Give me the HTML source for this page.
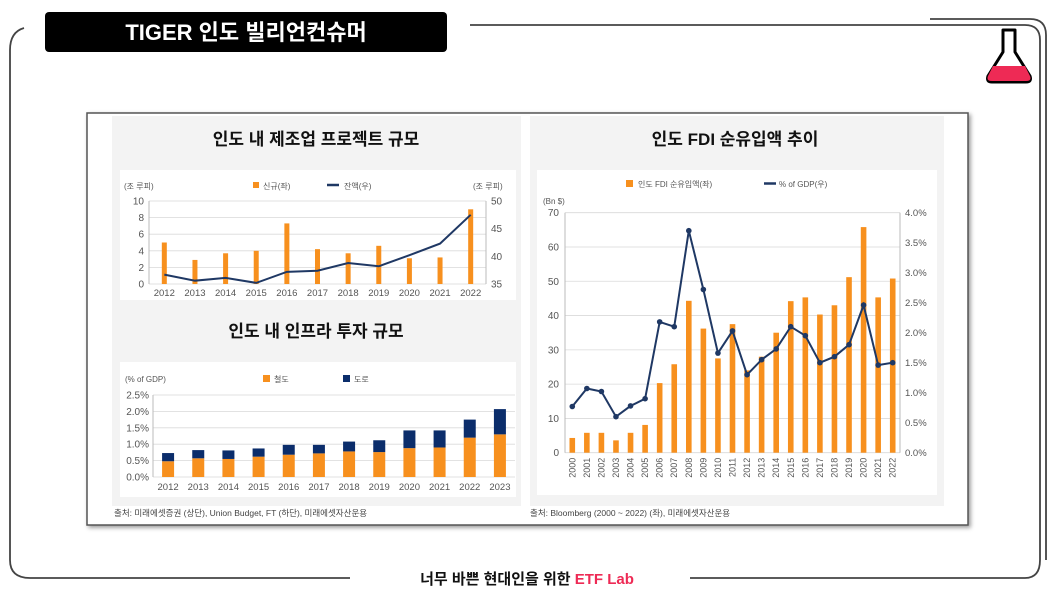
<!DOCTYPE html>
<html><head><meta charset="utf-8"><style>
html,body{margin:0;padding:0;background:#fff;width:1055px;height:596px;overflow:hidden}
svg{display:block;font-family:"Liberation Sans","Noto Sans CJK KR",sans-serif}
</style></head><body>
<svg id="s" width="1055" height="596" viewBox="0 0 1055 596">
<g fill="none" stroke="#444" stroke-width="1.8">
<path d="M24 28 Q10 32 10 50 L10 560 Q10 578 30 578 L350 578"/>
<path d="M690 578 L1025 578 Q1040 578 1040 560 L1040 40 Q1040 25 1025 25 L470 25"/>
<path d="M930 19 L1030 19 Q1046 19 1046 35 L1046 560"/>
</g>
<rect x="45" y="12" width="402" height="40" rx="4" fill="#000"/>
<text x="246" y="40" fill="#fff" font-size="22" font-weight="bold" text-anchor="middle">TIGER 인도 빌리언컨슈머</text>
<g>
<path d="M1003 30 L1015 30 L1015 52 L1030 76 Q1032 82 1026 82 L992 82 Q986 82 988 76 L1003 52 Z" fill="#fff" stroke="#000" stroke-width="3" stroke-linejoin="round"/>
<path d="M993 66 L1025 66 L1030 76 Q1032 81 1026 81 L992 81 Q986 81 988 76 Z" fill="#ee2a55"/>
</g>
<rect x="87" y="113" width="881" height="412" fill="#fff" stroke="#555" stroke-width="1.5" style="filter:drop-shadow(2px 2px 2px #999)"/>
<rect x="112" y="116" width="409" height="390" fill="#f3f3f3"/>
<rect x="530" y="116" width="414" height="390" fill="#f3f3f3"/>
<rect x="120" y="170" width="396" height="130" fill="#fff"/>
<rect x="120" y="362" width="396" height="135" fill="#fff"/>
<rect x="537" y="170" width="400" height="325" fill="#fff"/>
<text x="316" y="145" font-size="17" font-weight="bold" text-anchor="middle" fill="#111">인도 내 제조업 프로젝트 규모</text>
<text x="316" y="337" font-size="17" font-weight="bold" text-anchor="middle" fill="#111">인도 내 인프라 투자 규모</text>
<text x="735" y="145" font-size="17" font-weight="bold" text-anchor="middle" fill="#111">인도 FDI 순유입액 추이</text>
<text x="114" y="516" font-size="8.5" fill="#444">출처: 미래에셋증권 (상단), Union Budget, FT (하단), 미래에셋자산운용</text>
<text x="530" y="516" font-size="8.5" fill="#444">출처: Bloomberg (2000 ~ 2022) (좌), 미래에셋자산운용</text>
<text x="527" y="584" font-size="15" font-weight="bold" text-anchor="middle" fill="#111">너무 바쁜 현대인을 위한 <tspan fill="#ee2a55">ETF Lab</tspan></text>
<g id="c1"></g><g id="c2"></g><g id="c3"></g>
</svg>
<script>
const mfgYears=["2012","2013","2014","2015","2016","2017","2018","2019","2020","2021","2022"];
const mfgNew=[5,2.9,3.7,4,7.3,4.2,3.7,4.6,3.1,3.2,9];
const mfgBal=[36.7,35.6,36.1,35.2,37.2,37.4,38.8,38.2,40.2,42.3,47.5];
const mfgLeftTicks=[0,2,4,6,8,10];
const mfgRightTicks=[35,40,45,50];
const infYears=["2012","2013","2014","2015","2016","2017","2018","2019","2020","2021","2022","2023"];
const infRail=[0.48,0.57,0.55,0.62,0.68,0.72,0.78,0.76,0.88,0.9,1.2,1.3];
const infRoad=[0.25,0.25,0.26,0.25,0.3,0.26,0.3,0.36,0.54,0.52,0.55,0.77];
const infTicks=[0,0.5,1,1.5,2,2.5];
const fdiYears=["2000","2001","2002","2003","2004","2005","2006","2007","2008","2009","2010","2011","2012","2013","2014","2015","2016","2017","2018","2019","2020","2021","2022"];
const fdiVal=[4.3,5.8,5.8,3.6,5.8,8.1,20.3,25.8,44.3,36.2,27.5,37.5,24,28,35,44.2,45.3,40.3,43,51.2,65.8,45.3,50.8];
const fdiGdp=[0.77,1.07,1.02,0.6,0.78,0.9,2.18,2.1,3.7,2.72,1.66,2.03,1.3,1.55,1.73,2.1,1.95,1.5,1.6,1.8,2.46,1.46,1.5];
const fdiLeftTicks=[0,10,20,30,40,50,60,70];
const fdiRightTicks=[0,0.5,1,1.5,2,2.5,3,3.5,4];
const NS="http://www.w3.org/2000/svg";
const ORANGE="#f7901e",NAVY="#1f3864",GRID="#d9d9d9",TX="#555";
function mk(p,t,a,txt){const e=document.createElementNS(NS,t);for(const k in a)e.setAttribute(k,a[k]);if(txt!==undefined)e.textContent=txt;p.appendChild(e);return e;}

// Chart 1
(function(){const g=document.getElementById('c1');
const x0=149,x1=486,yb=284,yt=201;
const yL=v=>yb-(v/10)*(yb-yt), yR=v=>yb-((v-35)/15)*(yb-yt);
const step=(x1-x0)/mfgYears.length, xc=i=>x0+step*(i+0.5);
mfgLeftTicks.forEach(v=>{const l=mk(g,'line',{x1:x0,x2:x1,y1:yL(v),y2:yL(v),stroke:GRID,'stroke-width':0.8});

const t=mk(g,'text',{x:x0-5,y:yL(v)+3.5,'font-size':10,fill:TX,'text-anchor':'end'},v);
});
mfgRightTicks.forEach(v=>{const t=mk(g,'text',{x:x1+5,y:yR(v)+3.5,'font-size':10,fill:TX},v);
});
mk(g,'line',{x1:x0,x2:x0,y1:yt,y2:yb,stroke:'#bbb'});mk(g,'line',{x1:x1,x2:x1,y1:yt,y2:yb,stroke:'#bbb'});
mfgYears.forEach((y,i)=>{const t=mk(g,'text',{x:xc(i),y:yb+12,'font-size':9.5,fill:TX,'text-anchor':'middle'},y);

const r=mk(g,'rect',{x:xc(i)-2.5,y:yL(mfgNew[i]),width:5,height:yb-yL(mfgNew[i]),fill:ORANGE});
});
const pl=mk(g,'polyline',{points:mfgBal.map((v,i)=>xc(i)+','+yR(v)).join(' '),fill:'none',stroke:NAVY,'stroke-width':2});

mk(g,'text',{x:124,y:189,'font-size':8,fill:TX},'(조 루피)');
mk(g,'text',{x:473,y:189,'font-size':8,fill:TX},'(조 루피)');
const lg=mk(g,'g',{});
mk(lg,'rect',{x:253,y:182,width:6,height:6,fill:ORANGE});mk(lg,'text',{x:263,y:189,'font-size':8,fill:TX},'신규(좌)');
mk(lg,'line',{x1:327,x2:339,y1:185,y2:185,stroke:NAVY,'stroke-width':2.5});mk(lg,'text',{x:344,y:189,'font-size':8,fill:TX},'잔액(우)');
})();

// Chart 2
(function(){const g=document.getElementById('c2');
const x0=153,x1=515,yb=477,yt=395;
const yv=v=>yb-(v/2.5)*(yb-yt);const step=(x1-x0)/infYears.length, xc=i=>x0+step*(i+0.5);
infTicks.forEach(v=>{const l=mk(g,'line',{x1:x0,x2:x1,y1:yv(v),y2:yv(v),stroke:GRID,'stroke-width':0.8});

const t=mk(g,'text',{x:x0-4,y:yv(v)+3.5,'font-size':10,fill:TX,'text-anchor':'end'},v.toFixed(1)+'%');
});
mk(g,'line',{x1:x0,x2:x0,y1:yt,y2:yb,stroke:'#bbb'});
infYears.forEach((y,i)=>{const t=mk(g,'text',{x:xc(i),y:yb+13,'font-size':9.5,fill:TX,'text-anchor':'middle'},y);

const w=12;const r=mk(g,'rect',{x:xc(i)-w/2,y:yv(infRail[i]),width:w,height:yb-yv(infRail[i]),fill:ORANGE});

const top=infRail[i]+infRoad[i];const r2=mk(g,'rect',{x:xc(i)-w/2,y:yv(top),width:w,height:yv(infRail[i])-yv(top),fill:'#0b2d6b'});
});
mk(g,'text',{x:125,y:382,'font-size':8,fill:TX},'(% of GDP)');
const lg=mk(g,'g',{});
mk(lg,'rect',{x:263,y:375,width:7,height:7,fill:ORANGE});mk(lg,'text',{x:274,y:382,'font-size':8,fill:TX},'철도');
mk(lg,'rect',{x:343,y:375,width:7,height:7,fill:'#0b2d6b'});mk(lg,'text',{x:354,y:382,'font-size':8,fill:TX},'도로');
})();

// Chart 3
(function(){const g=document.getElementById('c3');
const x0=565,x1=900,yb=452.7,yt=212.7;
const yL=v=>yb-(v/70)*(yb-yt), yR=v=>yb-(v/4)*(yb-yt);
const step=(x1-x0)/fdiYears.length, xc=i=>x0+step*(i+0.5);
fdiLeftTicks.forEach(v=>{const l=mk(g,'line',{x1:x0,x2:x1,y1:yL(v),y2:yL(v),stroke:GRID,'stroke-width':0.8});

const t=mk(g,'text',{x:x0-6,y:yL(v)+3.5,'font-size':10,fill:TX,'text-anchor':'end'},v);
});
fdiRightTicks.forEach(v=>{const t=mk(g,'text',{x:x1+5,y:yR(v)+3.5,'font-size':9.5,fill:TX},v.toFixed(1)+'%');
});
mk(g,'line',{x1:x0,x2:x0,y1:yt,y2:yb,stroke:'#bbb'});mk(g,'line',{x1:x1,x2:x1,y1:yt,y2:yb,stroke:'#bbb'});
fdiYears.forEach((y,i)=>{const t=mk(g,'text',{x:0,y:0,'font-size':9,fill:TX,'text-anchor':'end',transform:`translate(${xc(i)+3},${yb+5}) rotate(-90)`},y);

const r=mk(g,'rect',{x:xc(i)-2.8,y:yL(fdiVal[i]),width:5.6,height:yb-yL(fdiVal[i]),fill:ORANGE});
});
const pl=mk(g,'polyline',{points:fdiGdp.map((v,i)=>xc(i)+','+yR(v)).join(' '),fill:'none',stroke:NAVY,'stroke-width':2});

fdiGdp.forEach((v,i)=>{const c=mk(g,'circle',{cx:xc(i),cy:yR(v),r:2.8,fill:NAVY});
});
mk(g,'text',{x:543,y:204,'font-size':8,fill:TX},'(Bn $)');
const lg=mk(g,'g',{});
mk(lg,'rect',{x:626,y:180,width:7,height:7,fill:ORANGE});mk(lg,'text',{x:638,y:187,'font-size':8,fill:TX},'인도 FDI 순유입액(좌)');
mk(lg,'line',{x1:764,x2:776,y1:183.5,y2:183.5,stroke:NAVY,'stroke-width':2.5});mk(lg,'text',{x:779,y:187,'font-size':8,fill:TX},'% of GDP(우)');
})();
</script>
</body></html>
